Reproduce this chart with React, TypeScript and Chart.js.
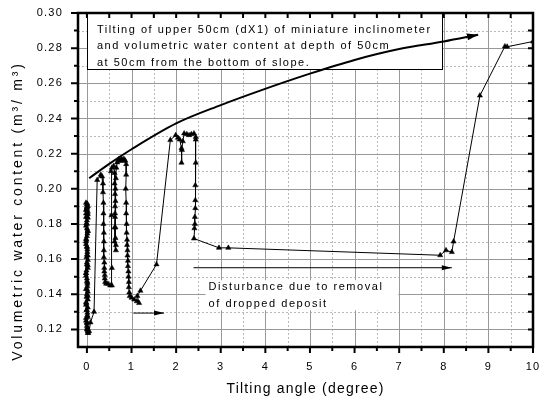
import React, { useEffect, useRef } from 'react';
import { Chart, registerables } from 'chart.js';

Chart.register(...registerables);

const FONT = "'Liberation Sans', Arial, sans-serif";

const xTickLabels = ['0', '1', '2', '3', '4', '5', '6', '7', '8', '9', '10'];
const yTickLabels = ['0.12', '0.14', '0.16', '0.18', '0.20', '0.22', '0.24', '0.26', '0.28', '0.30'];

const xTitle = 'Tilting angle (degree)';
const yTitle = 'Volumetric water content (m\u00B3/ m\u00B3)';

const infoLines = [
  'Tilting of upper 50cm (dX1) of miniature inclinometer',
  'and volumetric water content at depth of 50cm',
  'at 50cm from the bottom of slope.',
];
const noteLines = ['Disturbance due to removal', 'of dropped deposit'];

// measured series (tilting angle vs volumetric water content)
const tiltAngle = [
  0.02, 0.0, -0.02, 0.01, -0.01, -0.02, 0.02, 0.0, -0.02, 0.01, 0.0, -0.02, 0.02, 0.0, -0.01, 0.01, 0.0, -0.02, 0.0, 0.02,
  -0.02, 0.0, 0.01, -0.02, 0.0, 0.02, 0.0, -0.02,
  0.0, -0.02, 0.02, 0.0, 0.01, -0.02, 0.0, 0.02, -0.01, 0.0, 0.02, 0.0, -0.02, 0.01, 0.0, 0.02, -0.01, 0.0, 0.02, 0.0,
  0.01, 0.03, 0.0, 0.02,
  0.01, -0.02, 0.02, -0.01, 0.01, -0.02, 0.02, 0.0, -0.02, 0.01, -0.01, 0.02, 0.0, 0.01,
  -0.01, 0.02, 0.0, -0.02, 0.01, 0.02, -0.01, 0.0, 0.02, -0.02, 0.01, 0.0, 0.02,
  0.05, 0.08, 0.16, 0.23, 0.31, 0.34, 0.36, 0.36, 0.37, 0.37, 0.37, 0.38, 0.38, 0.38, 0.38, 0.39, 0.39, 0.39, 0.4, 0.4,
  0.41, 0.43, 0.47, 0.52, 0.56,
  0.56, 0.55, 0.54, 0.56, 0.6, 0.62, 0.62, 0.63, 0.63, 0.63, 0.64, 0.64, 0.65, 0.65, 0.62, 0.62, 0.63, 0.64, 0.64, 0.65,
  0.66, 0.68,
  0.7, 0.72, 0.75, 0.78, 0.8, 0.83, 0.86, 0.88, 0.88, 0.87, 0.88, 0.88, 0.89, 0.89, 0.9, 0.9, 0.91, 0.91, 0.92, 0.92,
  0.93, 0.93, 0.94, 0.94, 0.95, 0.96, 1.0, 1.06, 1.12, 1.17, 1.13, 1.2, 1.56,
  1.87, 1.99, 2.04, 2.08, 2.12, 2.12, 2.13, 2.15, 2.18, 2.24, 2.29, 2.34, 2.4, 2.44, 2.44, 2.44, 2.43, 2.43, 2.43, 2.42,
  2.42, 2.41, 2.4,
  2.96, 3.17, 7.92, 8.05, 8.18, 8.22, 8.81, 9.37, 9.42, 10.0,
];
const waterContent = [
  0.119, 0.122, 0.125, 0.128, 0.131, 0.134, 0.137, 0.14, 0.143, 0.146, 0.149, 0.152, 0.155, 0.158, 0.161, 0.164, 0.167, 0.17, 0.173, 0.176,
  0.179, 0.182, 0.184, 0.186, 0.188, 0.19, 0.191, 0.192,
  0.19, 0.188, 0.187, 0.189, 0.186, 0.184, 0.18, 0.176, 0.171, 0.167, 0.162, 0.157, 0.152, 0.147, 0.143, 0.139, 0.135, 0.131, 0.127, 0.124,
  0.121, 0.118, 0.12, 0.118,
  0.1205, 0.1265, 0.1325, 0.1385, 0.1445, 0.1505, 0.1565, 0.1625, 0.1685, 0.1745, 0.1805, 0.1855, 0.1895, 0.1915,
  0.1885, 0.1835, 0.1775, 0.1715, 0.1655, 0.1595, 0.1535, 0.1475, 0.1415, 0.1355, 0.1295, 0.1235, 0.1195,
  0.119, 0.124, 0.13, 0.205, 0.208, 0.207, 0.203, 0.198, 0.192, 0.186, 0.18, 0.175, 0.17, 0.165, 0.161, 0.158, 0.155, 0.153, 0.151, 0.149,
  0.147, 0.146, 0.146, 0.145, 0.145,
  0.155, 0.185, 0.21, 0.212, 0.213, 0.209, 0.203, 0.197, 0.19, 0.184, 0.178, 0.172, 0.168, 0.165, 0.17, 0.178, 0.186, 0.193, 0.2, 0.206,
  0.212, 0.215,
  0.216, 0.217, 0.216, 0.217, 0.216, 0.217, 0.216, 0.214, 0.208, 0.2, 0.192, 0.186, 0.18, 0.175, 0.171, 0.168, 0.165, 0.162, 0.159, 0.156,
  0.153, 0.15, 0.147, 0.144, 0.141, 0.139, 0.138, 0.137, 0.136, 0.135, 0.139, 0.142, 0.157,
  0.2277, 0.2305, 0.229, 0.228, 0.223, 0.2148, 0.222, 0.227, 0.2315, 0.231, 0.2305, 0.231, 0.2315, 0.2295, 0.228, 0.2148, 0.202, 0.1935, 0.189, 0.184,
  0.18, 0.1775, 0.1717,
  0.1664, 0.1664, 0.1622, 0.165, 0.164, 0.17, 0.253, 0.281, 0.2808, 0.2838,
];

// hand-drawn trend arrow
const trendAngle = [0.05, 0.5, 1, 2, 3, 3.9, 5, 6, 7, 8, 8.77];
const trendContent = [0.206, 0.2142, 0.2225, 0.2372, 0.2476, 0.256, 0.2655, 0.2733, 0.2795, 0.2838, 0.2876];

// "disturbance" arrow and short arrow
const disturbAngle = [2.39, 8.18];
const disturbContent = [0.1551, 0.1551];
const shortAngle = [1.04, 1.73];
const shortContent = [0.1293, 0.1293];

const toPoints = (xs: number[], ys: number[]) => xs.map((x, i) => ({ x, y: ys[i] }));

const xMajor = xTickLabels.map(Number);
const yMajor = yTickLabels.map(Number);
const mids = (arr: number[]) => arr.slice(0, -1).map((v, i) => +((v + arr[i + 1]) / 2).toFixed(4));
const xMinor = mids(xMajor);
const yMinor = mids(yMajor);

function arrowHead(ctx: CanvasRenderingContext2D, x1: number, y1: number, x2: number, y2: number, len: number, half: number) {
  const a = Math.atan2(y2 - y1, x2 - x1);
  const c = Math.cos(a);
  const s = Math.sin(a);
  ctx.beginPath();
  ctx.moveTo(x2, y2);
  ctx.lineTo(x2 - len * c + half * s, y2 - len * s - half * c);
  ctx.lineTo(x2 - len * c - half * s, y2 - len * s + half * c);
  ctx.closePath();
  ctx.fill();
}

const decorPlugin = {
  id: 'decor',
  beforeDraw(chart: any) {
    chart.ctx.letterSpacing = '1.2px';
  },
  beforeDatasetsDraw(chart: any) {
    const ctx: CanvasRenderingContext2D = chart.ctx;
    const xs = chart.scales.x;
    const ys = chart.scales.y;
    const { left, right, top, bottom } = chart.chartArea;
    ctx.save();
    ctx.lineWidth = 1;
    ctx.strokeStyle = '#b8b8b8';
    ctx.setLineDash([2, 2]);
    ctx.beginPath();
    xMinor.forEach((v) => {
      const p = Math.round(xs.getPixelForValue(v)) + 0.5;
      ctx.moveTo(p, top);
      ctx.lineTo(p, bottom);
    });
    yMinor.forEach((v) => {
      const p = Math.round(ys.getPixelForValue(v)) + 0.5;
      ctx.moveTo(left, p);
      ctx.lineTo(right, p);
    });
    ctx.stroke();
    ctx.setLineDash([]);
    ctx.strokeStyle = '#999999';
    ctx.beginPath();
    xMajor.forEach((v) => {
      const p = Math.round(xs.getPixelForValue(v)) + 0.5;
      ctx.moveTo(p, top);
      ctx.lineTo(p, bottom);
    });
    yMajor.forEach((v) => {
      const p = Math.round(ys.getPixelForValue(v)) + 0.5;
      ctx.moveTo(left, p);
      ctx.lineTo(right, p);
    });
    ctx.stroke();

    // info box
    const bx0 = xs.getPixelForValue(0);
    const bx1 = xs.getPixelForValue(7.96);
    const by0 = ys.getPixelForValue(0.3);
    const by1 = ys.getPixelForValue(0.268);
    ctx.fillStyle = '#fff';
    ctx.fillRect(bx0, by0, bx1 - bx0, by1 - by0);
    ctx.strokeStyle = '#000';
    ctx.lineWidth = 1;
    ctx.strokeRect(Math.round(bx0) + 0.5, Math.round(by0) + 0.5, Math.round(bx1 - bx0), Math.round(by1 - by0));
    ctx.fillStyle = '#000';
    ctx.font = `11px ${FONT}`;
    (ctx as any).letterSpacing = '1.5px';
    ctx.textBaseline = 'middle';
    ctx.textAlign = 'left';
    infoLines.forEach((t, i) => ctx.fillText(t, bx0 + 10, by0 + 16.5 + i * 16.5));

    // note box
    const nx0 = xs.getPixelForValue(2.66);
    const nx1 = xs.getPixelForValue(6.98);
    const ny0 = ys.getPixelForValue(0.148);
    const ny1 = ys.getPixelForValue(0.1309);
    ctx.fillStyle = '#fff';
    ctx.fillRect(nx0, ny0, nx1 - nx0, ny1 - ny0);
    ctx.fillStyle = '#000';
    (ctx as any).letterSpacing = '1.55px';
    noteLines.forEach((t, i) => ctx.fillText(t, nx0 + 3, ny0 + 7 + i * 16.5));
    ctx.restore();
  },
  afterDatasetsDraw(chart: any) {
    const ctx: CanvasRenderingContext2D = chart.ctx;
    const xs = chart.scales.x;
    const ys = chart.scales.y;
    const { left, right, top, bottom } = chart.chartArea;
    ctx.save();
    ctx.fillStyle = '#000';
    chart.data.datasets.forEach((ds: any, i: number) => {
      if (!ds.arrow) return;
      const pts = chart.getDatasetMeta(i).data;
      const a = pts[pts.length - 2];
      const b = pts[pts.length - 1];
      arrowHead(ctx, a.x, a.y, b.x, b.y, ds.arrow[0], ds.arrow[1]);
    });

    // frame
    ctx.strokeStyle = '#000';
    ctx.lineWidth = 2.5;
    ctx.strokeRect(left, top, right - left, bottom - top);

    // ticks
    ctx.lineWidth = 2;
    ctx.beginPath();
    xMajor.forEach((v) => {
      const p = xs.getPixelForValue(v);
      ctx.moveTo(p, bottom);
      ctx.lineTo(p, bottom + 6);
      ctx.moveTo(p, top);
      ctx.lineTo(p, top + 5);
    });
    xMinor.forEach((v) => {
      const p = xs.getPixelForValue(v);
      ctx.moveTo(p, bottom);
      ctx.lineTo(p, bottom + 4);
      ctx.moveTo(p, top);
      ctx.lineTo(p, top + 5);
    });
    yMajor.forEach((v) => {
      const p = ys.getPixelForValue(v);
      ctx.moveTo(left - 7, p);
      ctx.lineTo(left, p);
      ctx.moveTo(right, p);
      ctx.lineTo(right - 5, p);
    });
    yMinor.forEach((v) => {
      const p = ys.getPixelForValue(v);
      ctx.moveTo(left - 4, p);
      ctx.lineTo(left, p);
      ctx.moveTo(right, p);
      ctx.lineTo(right - 5, p);
    });
    ctx.stroke();

    // y axis title
    ctx.translate(18, 211);
    ctx.rotate(-Math.PI / 2);
    ctx.font = `14px ${FONT}`;
    (ctx as any).letterSpacing = '2.8px';
    ctx.textAlign = 'center';
    ctx.textBaseline = 'middle';
    ctx.fillText(yTitle, 0, 0);
    ctx.restore();
  },
};

export default function App() {
  const ref = useRef<HTMLCanvasElement>(null);
  useEffect(() => {
    const chart = new Chart(ref.current as HTMLCanvasElement, {
      type: 'scatter',
      data: {
        datasets: [
          {
            label: 'trend',
            data: toPoints(trendAngle, trendContent),
            showLine: true,
            borderColor: '#000',
            borderWidth: 2,
            pointRadius: 0,
            cubicInterpolationMode: 'monotone',
            arrow: [11, 3.5],
          } as any,
          {
            label: 'disturbance',
            data: toPoints(disturbAngle, disturbContent),
            showLine: true,
            borderColor: '#000',
            borderWidth: 1,
            pointRadius: 0,
            arrow: [10, 2.5],
          } as any,
          {
            label: 'short',
            data: toPoints(shortAngle, shortContent),
            showLine: true,
            borderColor: '#000',
            borderWidth: 1,
            pointRadius: 0,
            arrow: [10, 2.5],
          } as any,
          {
            label: 'water content',
            data: toPoints(tiltAngle, waterContent),
            showLine: true,
            borderColor: '#000',
            borderWidth: 1,
            pointStyle: 'triangle',
            pointRadius: 3,
            pointBackgroundColor: '#000',
            pointBorderColor: '#000',
            pointBorderWidth: 0.5,
          },
        ],
      },
      options: {
        animation: false,
        responsive: false,
        events: [],
        layout: { padding: { left: 0, top: 13, right: 6, bottom: 0 } },
        plugins: { legend: { display: false }, tooltip: { enabled: false } },
        scales: {
          x: {
            type: 'linear',
            min: -0.2,
            max: 10,
            afterBuildTicks: (s: any) => {
              s.ticks = xMajor.map((v) => ({ value: v }));
            },
            afterFit: (s: any) => {
              s.height = 53;
              s.paddingLeft = 0;
              s.paddingRight = 0;
            },
            ticks: {
              autoSkip: false,
              maxRotation: 0,
              padding: 13,
              color: '#000',
              font: { family: FONT, size: 11 },
              callback: (v: any) => xTickLabels[xMajor.indexOf(Number(v))] ?? '',
            },
            grid: { display: false, drawTicks: false },
            border: { display: false },
            title: {
              display: true,
              text: xTitle,
              color: '#000',
              font: { family: FONT, size: 14 },
              padding: { top: 0, bottom: 2 },
            },
          },
          y: {
            type: 'linear',
            min: 0.11,
            max: 0.3,
            afterBuildTicks: (s: any) => {
              s.ticks = yMajor.map((v) => ({ value: v }));
            },
            afterFit: (s: any) => {
              s.width = 78;
              s.paddingTop = 0;
              s.paddingBottom = 0;
            },
            ticks: {
              autoSkip: false,
              padding: 15,
              color: '#000',
              font: { family: FONT, size: 11 },
              callback: (v: any) => yTickLabels[yMajor.indexOf(Number(v))] ?? '',
            },
            grid: { display: false, drawTicks: false },
            border: { display: false },
          },
        },
      } as any,
      plugins: [decorPlugin],
    });
    return () => chart.destroy();
  }, []);
  return (
    <div style={{ position: 'fixed', left: 0, top: 0, width: 539, height: 400, background: '#fff' }}>
      <canvas ref={ref} width={539} height={400} style={{ display: 'block', width: 539, height: 400 }} />
    </div>
  );
}
